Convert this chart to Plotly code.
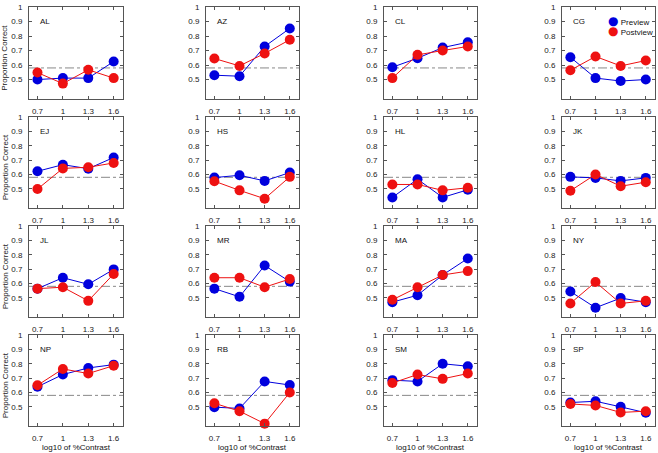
import plotly.graph_objects as go

# ---- data ----
contrast = [0.7, 1.0, 1.3, 1.6]
subjects = ["AL", "AZ", "CL", "CG",
            "EJ", "HS", "HL", "JK",
            "JL", "MR", "MA", "NY",
            "NP", "RB", "SM", "SP"]
preview = {
    "AL": [0.50, 0.51, 0.51, 0.624],
    "AZ": [0.530, 0.523, 0.728, 0.852],
    "CL": [0.585, 0.647, 0.720, 0.757],
    "CG": [0.654, 0.510, 0.490, 0.500],
    "EJ": [0.622, 0.668, 0.640, 0.718],
    "HS": [0.578, 0.594, 0.555, 0.613],
    "HL": [0.440, 0.567, 0.440, 0.493],
    "JK": [0.583, 0.576, 0.555, 0.576],
    "JL": [0.564, 0.640, 0.594, 0.698],
    "MR": [0.564, 0.507, 0.725, 0.613],
    "MA": [0.470, 0.518, 0.659, 0.774],
    "NY": [0.544, 0.431, 0.498, 0.470],
    "NP": [0.640, 0.725, 0.771, 0.794],
    "RB": [0.498, 0.489, 0.677, 0.652],
    "SM": [0.686, 0.677, 0.800, 0.783],
    "SP": [0.530, 0.539, 0.500, 0.459],
}
postview = {
    "AL": [0.548, 0.472, 0.567, 0.510],
    "AZ": [0.645, 0.594, 0.680, 0.774],
    "CL": [0.510, 0.670, 0.700, 0.728],
    "CG": [0.564, 0.659, 0.594, 0.631],
    "EJ": [0.498, 0.642, 0.650, 0.680],
    "HS": [0.553, 0.489, 0.431, 0.583],
    "HL": [0.530, 0.530, 0.489, 0.507],
    "JK": [0.486, 0.600, 0.518, 0.546],
    "JL": [0.564, 0.574, 0.479, 0.666],
    "MR": [0.640, 0.640, 0.574, 0.631],
    "MA": [0.486, 0.574, 0.659, 0.686],
    "NY": [0.461, 0.610, 0.461, 0.479],
    "NP": [0.650, 0.764, 0.732, 0.787],
    "RB": [0.525, 0.470, 0.383, 0.600],
    "SM": [0.666, 0.725, 0.695, 0.732],
    "SP": [0.520, 0.510, 0.461, 0.470],
}
chance = 0.58
xtick_vals = [0.7, 1.0, 1.3, 1.6]
xtick_text = ["0.7", "1", "1.3", "1.6"]
ytick_vals = [0.5, 0.6, 0.7, 0.8, 0.9, 1.0]
ytick_text = ["0.5", "0.6", "0.7", "0.8", "0.9", "1"]
series_names = ["Preview", "Postview"]

# ---- layout geometry ----
W, H = 658, 453
col_px = [(29, 123), (206, 299), (384, 477), (562, 655)]
row_px = [(3, 96), (114, 206), (224, 316), (334, 426)]
BLUE = "#0000dd"
RED = "#ee1111"
FONT = "Liberation Sans, Arial, sans-serif"

fig = go.Figure()
layout = dict(
    width=W, height=H, margin=dict(l=0, r=0, t=0, b=0),
    plot_bgcolor="white", paper_bgcolor="white",
    showlegend=False, font=dict(family=FONT, size=8, color="#222"),
)
annotations = []
shapes = []

for i, subj in enumerate(subjects):
    r, c = divmod(i, 4)
    n = i + 1
    xa = "x" if n == 1 else f"x{n}"
    ya = "y" if n == 1 else f"y{n}"
    xl = "xaxis" if n == 1 else f"xaxis{n}"
    yl = "yaxis" if n == 1 else f"yaxis{n}"
    x0, x1 = col_px[c]
    t, b = row_px[r]
    layout[xl] = dict(
        domain=[x0 / W, x1 / W], range=[0.6, 1.71], anchor=ya,
        tickvals=xtick_vals, ticktext=xtick_text,
        showline=True, linecolor="#555", linewidth=1, mirror="ticks",
        ticks="inside", ticklen=3, tickcolor="#555",
        showgrid=False, zeroline=False, ticklabelstandoff=4,
        tickfont=dict(size=8, color="#222", family=FONT),
    )
    layout[yl] = dict(
        domain=[(H - b) / H, (H - t) / H], range=[0.365, 1.0], anchor=xa,
        tickvals=ytick_vals, ticktext=ytick_text,
        showline=True, linecolor="#555", linewidth=1, mirror="ticks",
        ticks="inside", ticklen=3, tickcolor="#555",
        showgrid=False, zeroline=False, ticklabelstandoff=4,
        tickfont=dict(size=8, color="#222", family=FONT),
    )
    # chance line
    shapes.append(dict(
        type="line", xref=f"{xa} domain", yref=ya, x0=0, x1=1,
        y0=chance, y1=chance, line=dict(color="#888", width=1, dash="dashdot"),
        layer="below",
    ))
    fig.add_trace(go.Scatter(
        x=contrast, y=preview[subj], xaxis=xa, yaxis=ya, mode="lines+markers",
        line=dict(color=BLUE, width=1), marker=dict(color=BLUE, size=10),
        name=series_names[0], cliponaxis=False, hoverinfo="skip",
    ))
    fig.add_trace(go.Scatter(
        x=contrast, y=postview[subj], xaxis=xa, yaxis=ya, mode="lines+markers",
        line=dict(color=RED, width=1), marker=dict(color=RED, size=10),
        name=series_names[1], cliponaxis=False, hoverinfo="skip",
    ))
    annotations.append(dict(
        text=subj, xref=f"{xa} domain", yref=ya, x=0.1, y=0.9,
        xanchor="left", yanchor="middle", showarrow=False,
        font=dict(size=8, color="#111", family=FONT),
    ))
    if c == 0:
        annotations.append(dict(
            text="Proportion Correct", xref="paper", yref=ya, x=5 / W, y=0.65,
            xanchor="center", yanchor="middle", textangle=-90, showarrow=False,
            font=dict(size=8, color="#222", family=FONT),
        ))
    if r == 3:
        annotations.append(dict(
            text="log10 of %Contrast", xref="paper", yref="paper",
            x=(x0 + x1) / 2 / W, y=(H - 447) / H,
            xanchor="center", yanchor="middle", showarrow=False,
            font=dict(size=8, color="#111", family=FONT),
        ))

# legend in the CG panel, drawn as a single text block
dot = "<span style='color:{};font-size:12px;font-family:DejaVu Sans'>●</span> {}"
legend_text = "<br>".join([dot.format(BLUE, series_names[0]),
                           dot.format(RED, series_names[1])])
annotations.append(dict(
    text=legend_text, xref="paper", yref="paper", x=606 / W, y=(H - 21.8) / H,
    xanchor="left", yanchor="middle", align="left", showarrow=False,
    font=dict(size=8, color="#111", family=FONT),
))

layout["annotations"] = annotations
layout["shapes"] = shapes
fig.update_layout(**layout)
fig.write_html(
    "out.html",
    config={"displayModeBar": False},
    post_script="document.body.style.margin='0';document.body.style.overflow='hidden';",
)
